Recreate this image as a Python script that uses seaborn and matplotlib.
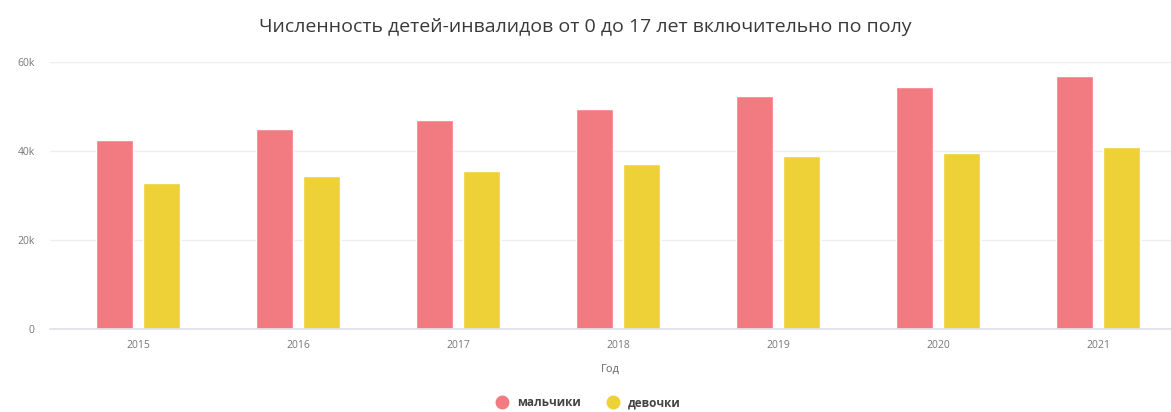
import pandas as pd
import numpy as np
import seaborn as sns
from matplotlib import pyplot as plt
from matplotlib.lines import Line2D
from matplotlib.ticker import FuncFormatter

years = ['2015', '2016', '2017', '2018', '2019', '2020', '2021']
boys = [42500, 44900, 47000, 49400, 52400, 54400, 56800]
girls = [32800, 34400, 35500, 37100, 38900, 39600, 40800]
series = ['мальчики', 'девочки']
colors = ['#F27B81', '#EDD136']

df = pd.DataFrame({
    'Год': years * 2,
    'value': boys + girls,
    'пол': [series[0]] * len(years) + [series[1]] * len(years),
})

sns.set_theme(style='white')
plt.rcParams['font.family'] = ['Open Sans', 'DejaVu Sans']

fig = plt.figure(figsize=(11.71, 4.12), dpi=100)
ax = fig.add_axes([0.0427, 0.2015, 0.9573, 0.648])

sns.barplot(data=df, x='Год', y='value', hue='пол', palette=colors,
            width=0.594, gap=0.22, dodge=True, ax=ax, legend=False,
            saturation=1)

ax.set_xlim(-0.55, 6.456)
ax.set_ylim(0, 60000)
ax.set_yticks([0, 20000, 40000, 60000])
ax.yaxis.set_major_formatter(FuncFormatter(lambda v, p: '0' if v == 0 else f'{int(v/1000)}k'))
ax.grid(axis='y', color='#EEEEEE', linewidth=1)
ax.set_axisbelow(True)
for s in ['top', 'right', 'left']:
    ax.spines[s].set_visible(False)
ax.spines['bottom'].set_color('#E0E0E8')
ax.tick_params(axis='both', length=0, labelsize=7.5, labelcolor='#777777')
ax.tick_params(axis='y', pad=11)
ax.tick_params(axis='x', pad=8)
ax.set_xlabel('Год', fontsize=8, color='#666666', labelpad=9)
ax.set_ylabel('')

fig.text(0.5, 0.934, 'Численность детей-инвалидов от 0 до 17 лет включительно по полу',
         ha='center', va='center', fontsize=14, color='#3a3a3a')

handles = [Line2D([], [], marker='o', linestyle='', markersize=9,
                  markerfacecolor=c, markeredgecolor=c) for c in colors]
fig.legend(handles, series, loc='center', bbox_to_anchor=(0.5, 0.022),
           ncol=2, frameon=False, handletextpad=0.2, columnspacing=1.8,
           labelcolor='#444444', prop={'size': 8.5, 'weight': 'bold'})

fig.savefig('out.png', dpi=100)
